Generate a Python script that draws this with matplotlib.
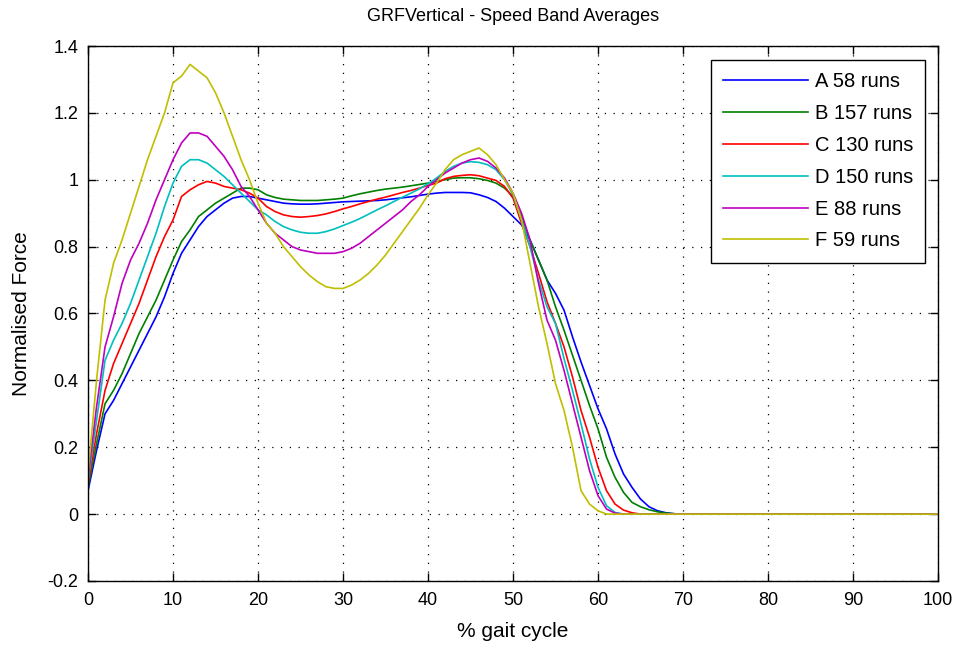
import numpy as np
import matplotlib as mpl
mpl.use('Agg')
import matplotlib.pyplot as plt

mpl.rc('font', family=['Liberation Sans', 'DejaVu Sans'], size=13)
mpl.rc('xtick', direction='in', top=True)
mpl.rc('ytick', direction='in', right=True)
mpl.rc('xtick.major', size=6, width=1, pad=8)
mpl.rc('ytick.major', size=6, width=1, pad=7)

gait = np.arange(0, 101)

band_a = [0.07, 0.19, 0.30, 0.34, 0.39, 0.44, 0.49, 0.54, 0.59, 0.65,
          0.72, 0.78, 0.82, 0.86, 0.89, 0.91, 0.93, 0.945, 0.95, 0.95,
          0.945, 0.94, 0.935, 0.93, 0.928, 0.927, 0.927, 0.928, 0.93, 0.932,
          0.934, 0.935, 0.936, 0.937, 0.938, 0.94, 0.943, 0.946, 0.949, 0.953,
          0.957, 0.96, 0.962, 0.962, 0.962, 0.961, 0.955, 0.947, 0.935, 0.915,
          0.89, 0.865, 0.82, 0.76, 0.70, 0.66, 0.61, 0.53, 0.455, 0.385,
          0.315, 0.255, 0.18, 0.12, 0.08, 0.045, 0.022, 0.01, 0.004, 0.001, 0.0]
band_b = [0.08, 0.21, 0.33, 0.37, 0.42, 0.48, 0.54, 0.59, 0.64, 0.70,
          0.76, 0.815, 0.85, 0.89, 0.91, 0.93, 0.945, 0.96, 0.975, 0.975,
          0.97, 0.955, 0.947, 0.942, 0.94, 0.938, 0.938, 0.938, 0.94, 0.942,
          0.945, 0.952, 0.958, 0.963, 0.968, 0.972, 0.975, 0.978, 0.982, 0.986,
          0.99, 0.995, 1.0, 1.005, 1.006, 1.006, 1.003, 0.998, 0.99, 0.975,
          0.95, 0.89, 0.82, 0.76, 0.70, 0.62, 0.55, 0.475, 0.40, 0.325,
          0.255, 0.17, 0.11, 0.065, 0.035, 0.022, 0.013, 0.007, 0.003, 0.001, 0.0]
band_c = [0.09, 0.24, 0.37, 0.45, 0.51, 0.57, 0.63, 0.70, 0.77, 0.83,
          0.88, 0.95, 0.97, 0.985, 0.995, 0.99, 0.98, 0.975, 0.97, 0.96,
          0.945, 0.92, 0.905, 0.895, 0.89, 0.888, 0.89, 0.893, 0.898, 0.905,
          0.913, 0.92, 0.928, 0.935, 0.942, 0.948, 0.955, 0.962, 0.968, 0.975,
          0.983, 0.99, 1.003, 1.01, 1.013, 1.015, 1.012, 1.005, 0.998, 0.98,
          0.945, 0.87, 0.80, 0.72, 0.635, 0.57, 0.50, 0.41, 0.31, 0.23,
          0.14, 0.07, 0.03, 0.012, 0.004, 0.0, 0.0, 0.0, 0.0, 0.0, 0.0]
band_d = [0.10, 0.28, 0.46, 0.52, 0.57, 0.63, 0.70, 0.77, 0.84, 0.92,
          0.99, 1.04, 1.06, 1.06, 1.05, 1.03, 1.01, 0.985, 0.96, 0.935,
          0.91, 0.895, 0.875, 0.86, 0.85, 0.843, 0.84, 0.84, 0.845, 0.853,
          0.863, 0.873, 0.884, 0.897, 0.91, 0.922, 0.935, 0.948, 0.96, 0.973,
          0.988, 1.005, 1.025, 1.04, 1.05, 1.054, 1.052, 1.045, 1.03, 1.0,
          0.955, 0.88, 0.80, 0.70, 0.62, 0.57, 0.465, 0.37, 0.27, 0.165,
          0.08, 0.025, 0.005, 0.0, 0.0, 0.0, 0.0, 0.0, 0.0, 0.0, 0.0]
band_e = [0.11, 0.32, 0.50, 0.59, 0.69, 0.76, 0.81, 0.87, 0.94, 1.00,
          1.06, 1.11, 1.14, 1.14, 1.13, 1.10, 1.07, 1.03, 0.98, 0.95,
          0.91, 0.87, 0.84, 0.82, 0.80, 0.79, 0.785, 0.78, 0.78, 0.78,
          0.785, 0.795, 0.81, 0.83, 0.85, 0.87, 0.89, 0.91, 0.935, 0.955,
          0.98, 1.0, 1.02, 1.035, 1.05, 1.06, 1.065, 1.055, 1.035, 1.005,
          0.96, 0.90, 0.82, 0.69, 0.58, 0.52, 0.43, 0.33, 0.23, 0.13,
          0.055, 0.015, 0.003, 0.0, 0.0, 0.0, 0.0, 0.0, 0.0, 0.0, 0.0]
band_f = [0.12, 0.40, 0.64, 0.75, 0.82, 0.90, 0.98, 1.06, 1.13, 1.20,
          1.29, 1.31, 1.345, 1.325, 1.305, 1.26, 1.20, 1.13, 1.06, 1.00,
          0.93, 0.87, 0.84, 0.80, 0.77, 0.74, 0.715, 0.695, 0.68, 0.675,
          0.675, 0.685, 0.70, 0.72, 0.745, 0.775, 0.81, 0.845, 0.88, 0.915,
          0.955, 0.99, 1.03, 1.06, 1.075, 1.085, 1.095, 1.075, 1.045, 1.0,
          0.96, 0.88, 0.75, 0.62, 0.51, 0.39, 0.31, 0.20, 0.07, 0.03,
          0.01, 0.0, 0.0, 0.0, 0.0, 0.0, 0.0, 0.0, 0.0, 0.0, 0.0]

labels = ['A 58 runs', 'B 157 runs', 'C 130 runs', 'D 150 runs', 'E 88 runs', 'F 59 runs']
colors = ['#0000ff', '#008000', '#ff0000', '#00bfbf', '#bf00bf', '#bfbf00']

fig = plt.figure(figsize=(9.6, 6.49), dpi=100)
ax = fig.add_axes([0.0917, 0.1048, 0.8854, 0.8243])

for vals, lab, c in zip([band_a, band_b, band_c, band_d, band_e, band_f], labels, colors):
    y = np.concatenate([vals, np.zeros(len(gait) - len(vals))])
    ax.plot(gait, y, color=c, lw=1.2, label=lab)

ax.set_xlim(0, 100)
ax.set_ylim(-0.2, 1.4)
ax.set_xticks(np.arange(0, 101, 10))
ax.set_yticks(np.arange(-0.2, 1.41, 0.2))
ax.set_yticklabels(['-0.2', '0', '0.2', '0.4', '0.6', '0.8', '1', '1.2', '1.4'])
ax.grid(True, color='k', linestyle=(0, (1, 6)), linewidth=0.9)
for s in ax.spines.values():
    s.set_linewidth(1.0)

ax.set_title('GRFVertical - Speed Band Averages', fontsize=13, pad=18)
ax.set_xlabel('% gait cycle', fontsize=15, labelpad=9)
ax.set_ylabel('Normalised Force', fontsize=15, labelpad=12)

leg = ax.legend(loc='upper right', bbox_to_anchor=(0.985, 0.974), borderaxespad=0,
                fancybox=False, framealpha=1, edgecolor='k', fontsize=14.5,
                handlelength=4.2, handletextpad=0.35, labelspacing=0.64,
                borderpad=0.6)
leg.get_frame().set_linewidth(1.0)

plt.savefig('out.png', dpi=100)
